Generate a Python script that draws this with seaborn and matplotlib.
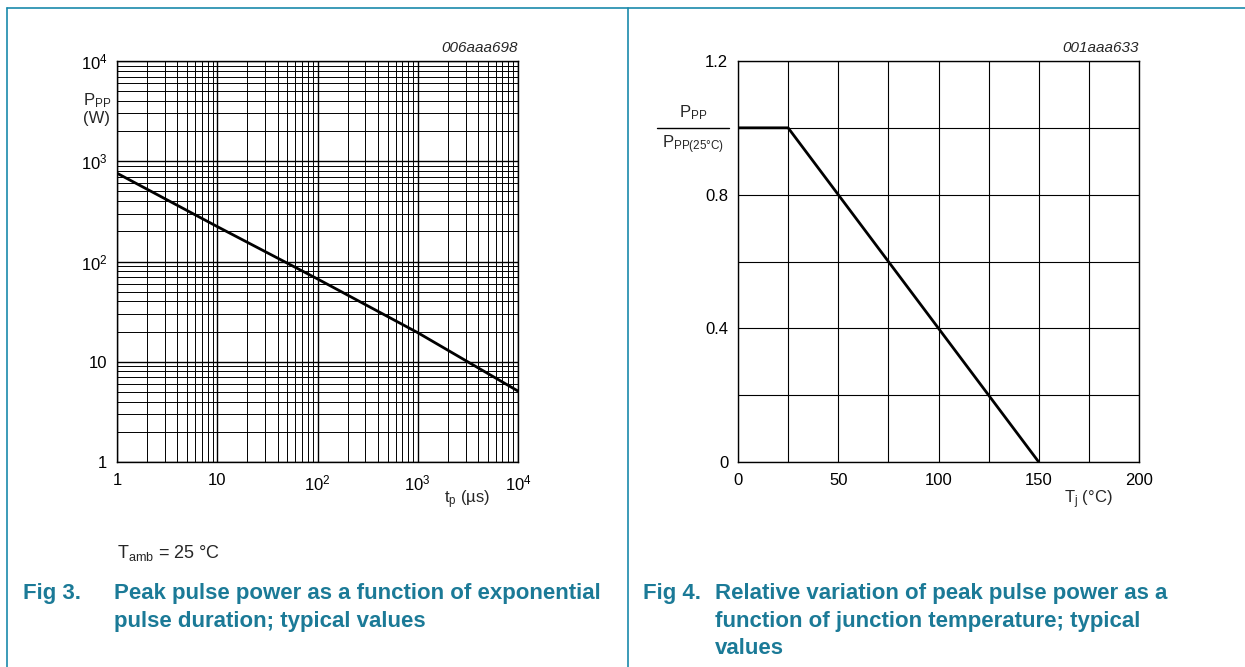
import matplotlib
matplotlib.use("Agg")
import matplotlib.pyplot as plt
import numpy as np
import pandas as pd
import seaborn as sns
from matplotlib.lines import Line2D
from matplotlib.ticker import FixedLocator, LogLocator, NullFormatter

# Fig 3: peak pulse power vs pulse duration (log-log)
pulse_us = [1, 10, 100, 1000, 10000]
power_w = [760, 223, 67, 19.5, 5.1]

# Fig 4: relative peak pulse power vs junction temperature
temp_c = [0, 25, 150]
rel_power = [1.0, 1.0, 0.0]

left_xticks = [1, 10, 100, 1000, 10000]
left_xlabels = ["1", "10", "10$^{2}$", "10$^{3}$", "10$^{4}$"]
left_yticks = [1, 10, 100, 1000, 10000]
left_ylabels = ["1", "10", "10$^{2}$", "10$^{3}$", "10$^{4}$"]
right_xticks = [0, 25, 50, 75, 100, 125, 150, 175, 200]
right_xlabels = ["0", "", "50", "", "100", "", "150", "", "200"]
right_yticks = [0, 0.2, 0.4, 0.6, 0.8, 1.0, 1.2]
right_ylabels = ["0", "", "0.4", "", "0.8", "", "1.2"]

caption3 = ["Peak pulse power as a function of exponential",
            "pulse duration; typical values"]
caption4 = ["Relative variation of peak pulse power as a",
            "function of junction temperature; typical",
            "values"]

sns.set_theme(style="white")
plt.rcParams["font.family"] = ["Liberation Sans", "DejaVu Sans"]
plt.rcParams["mathtext.fontset"] = "custom"
plt.rcParams["mathtext.rm"] = "Liberation Sans"
plt.rcParams["mathtext.it"] = "Liberation Sans:italic"
plt.rcParams["mathtext.default"] = "regular"

W, H = 1245, 667
fig = plt.figure(figsize=(W / 100, H / 100), dpi=100)
fig.patch.set_facecolor("white")

frame_col = "#1a8aab"
cap_col = "#1b7a97"


def px(x, y):
    return x / W, 1 - y / H


def box(x0, y0, x1, y1):
    return [x0 / W, 1 - y1 / H, (x1 - x0) / W, (y1 - y0) / H]


# outer frame lines
fig.add_artist(Line2D([7 / W, 1], [1 - 8 / H, 1 - 8 / H], color=frame_col, lw=1.2))
fig.add_artist(Line2D([7 / W, 7 / W], [0, 1 - 8 / H], color=frame_col, lw=1.2))
fig.add_artist(Line2D([628 / W, 628 / W], [0, 1 - 8 / H], color=frame_col, lw=1.2))

# ---------------- left chart ----------------
ax1 = fig.add_axes(box(117, 61, 518, 462))
df1 = pd.DataFrame({"tp": pulse_us, "ppp": power_w})
sns.lineplot(data=df1, x="tp", y="ppp", ax=ax1, color="black", lw=2.0)
ax1.set_xscale("log")
ax1.set_yscale("log")
ax1.set_xlim(1, 10000)
ax1.set_ylim(1, 10000)
ax1.set_xticks(left_xticks)
ax1.set_xticklabels(left_xlabels)
ax1.set_yticks(left_yticks)
ax1.set_yticklabels(left_ylabels)
for axis in (ax1.xaxis, ax1.yaxis):
    axis.set_minor_locator(LogLocator(base=10, subs=np.arange(2, 10), numticks=20))
    axis.set_minor_formatter(NullFormatter())
ax1.grid(which="major", color="black", lw=1.0)
ax1.grid(which="minor", color="black", lw=0.7)
ax1.set_xlabel("")
ax1.set_ylabel("")

# ---------------- right chart ----------------
ax2 = fig.add_axes(box(738, 61, 1139, 462))
df2 = pd.DataFrame({"tj": temp_c, "rel": rel_power})
sns.lineplot(data=df2, x="tj", y="rel", ax=ax2, color="black", lw=2.0)
ax2.set_xlim(0, 200)
ax2.set_ylim(0, 1.2)
ax2.xaxis.set_major_locator(FixedLocator(right_xticks))
ax2.set_xticklabels(right_xlabels)
ax2.yaxis.set_major_locator(FixedLocator(right_yticks))
ax2.set_yticklabels(right_ylabels)
ax2.grid(which="major", color="black", lw=0.8)
ax2.set_xlabel("")
ax2.set_ylabel("")

for ax in (ax1, ax2):
    ax.set_axisbelow(True)
    for s in ax.spines.values():
        s.set_color("black")
        s.set_linewidth(1.0)
    ax.tick_params(which="both", length=0, labelsize=12, colors="black")
    ax.tick_params(axis="x", pad=8)
    ax.tick_params(axis="y", pad=7)

# axis annotations
fig.text(*px(518, 48), "006aaa698", ha="right", va="center", fontsize=11, style="italic")
fig.text(*px(1139, 48), "001aaa633", ha="right", va="center", fontsize=11, style="italic")

fig.text(*px(97, 101), "P$_{PP}$", ha="center", va="center", fontsize=12)
fig.text(*px(97, 118), "(W)", ha="center", va="center", fontsize=12)
fig.text(*px(467, 500), "t$_{p}$ (µs)", ha="center", va="center", fontsize=12)

fig.text(*px(693, 113), "P$_{PP}$", ha="center", va="center", fontsize=12)
fig.add_artist(Line2D([657 / W, 729 / W], [1 - 128 / H, 1 - 128 / H], color="black", lw=1.0))
fig.text(*px(693, 145), "P$_{PP(25°C)}$", ha="center", va="center", fontsize=12)
fig.text(*px(1088, 500), "T$_{j}$ (°C)", ha="center", va="center", fontsize=12)

fig.text(*px(117, 553), "T$_{amb}$ = 25 °C", ha="left", va="center", fontsize=13)

# captions
cap_kw = dict(ha="left", va="baseline", fontsize=16, fontweight="bold", color=cap_col)
fig.text(*px(23, 599), "Fig 3.", **cap_kw)
for i, line in enumerate(caption3):
    fig.text(*px(114, 599 + 28 * i), line, **cap_kw)
fig.text(*px(643, 599), "Fig 4.", **cap_kw)
for i, line in enumerate(caption4):
    fig.text(*px(715, 599 + 27.5 * i), line, **cap_kw)

fig.savefig("out.png", dpi=100, facecolor="white")
